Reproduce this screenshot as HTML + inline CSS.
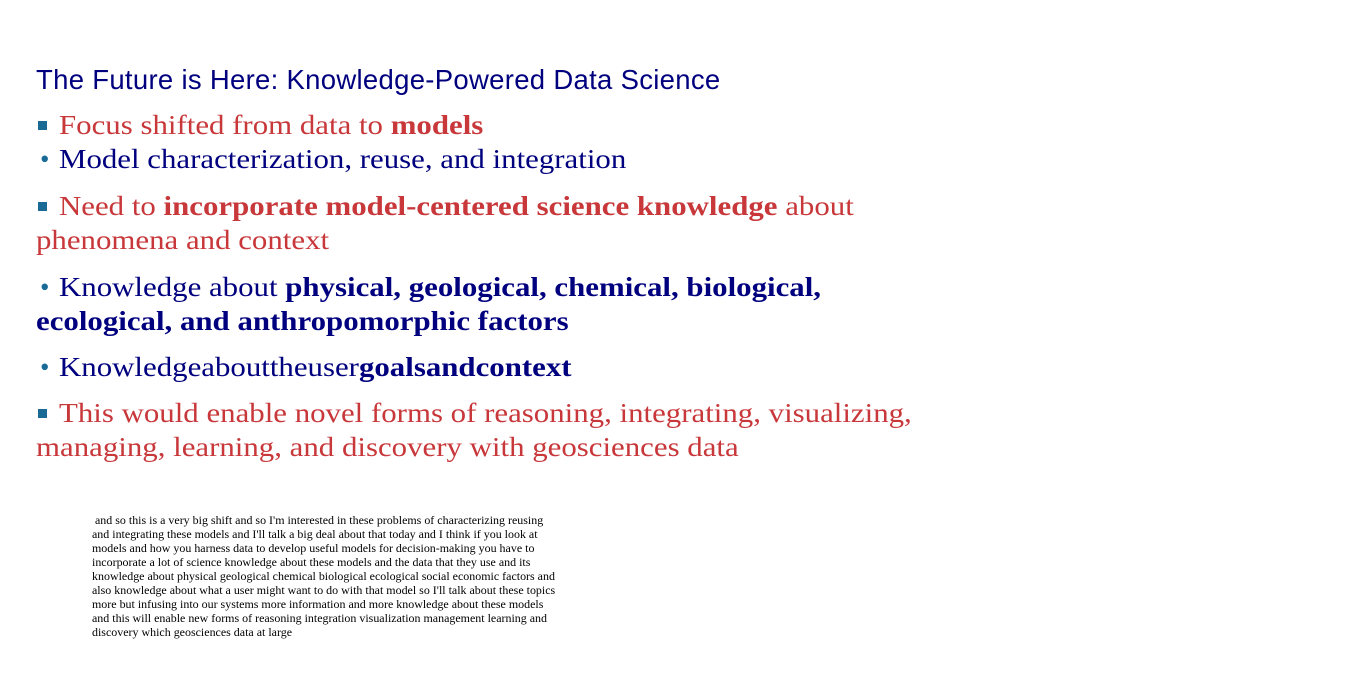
<!DOCTYPE html>
<html><head><meta charset="utf-8"><style>
html,body{margin:0;padding:0;background:#fff;}
body{width:1370px;height:676px;position:relative;overflow:hidden;}
.l{position:absolute;left:36px;white-space:nowrap;font-family:"Liberation Serif",serif;font-size:27px;line-height:34px;}
.t{display:inline-block;transform:scaleX(1.143);transform-origin:0 50%;}
.in{position:absolute;left:59px;}
.r{color:#c8373a;}
.b{color:#00007f;}
.sq{position:absolute;left:38px;width:9px;height:9px;background:#1a6a96;margin-top:13px;}
.dot{position:absolute;left:40px;color:#1a6a96;}
#title{position:absolute;left:36px;top:64px;font-family:"Liberation Sans",sans-serif;font-size:27.5px;letter-spacing:0.3px;color:#00007f;white-space:nowrap;}
#notes{position:absolute;left:92px;top:514px;font-family:"Liberation Serif",serif;font-size:11.5px;line-height:14px;color:#000;white-space:pre;transform:scaleX(1.04);transform-origin:0 0;}
</style></head><body>
<div id="title">The Future is Here: Knowledge-Powered Data Science</div>
<div class="sq" style="top:108px"></div>
<div class="l r in" style="top:108px"><span class="t">Focus shifted from data to <b>models</b></span></div>
<div class="l dot" style="top:142px">•</div>
<div class="l b in" style="top:142px"><span class="t">Model characterization, reuse, and integration</span></div>
<div class="sq" style="top:189px"></div>
<div class="l r in" style="top:189px"><span class="t">Need to <b>incorporate model-centered science knowledge</b> about</span></div>
<div class="l r" style="top:223px"><span class="t">phenomena and context</span></div>
<div class="l dot" style="top:270px">•</div>
<div class="l b in" style="top:270px"><span class="t">Knowledge about <b>physical, geological, chemical, biological,</b></span></div>
<div class="l b" style="top:304px"><span class="t"><b>ecological, and anthropomorphic factors</b></span></div>
<div class="l dot" style="top:350px">•</div>
<div class="l b in" style="top:350px"><span class="t">Knowledgeabouttheuser<b>goalsandcontext</b></span></div>
<div class="sq" style="top:396px"></div>
<div class="l r in" style="top:396px"><span class="t">This would enable novel forms of reasoning, integrating, visualizing,</span></div>
<div class="l r" style="top:430px"><span class="t">managing, learning, and discovery with geosciences data</span></div>
<div id="notes"> and so this is a very big shift and so I'm interested in these problems of characterizing reusing
and integrating these models and I'll talk a big deal about that today and I think if you look at
models and how you harness data to develop useful models for decision-making you have to
incorporate a lot of science knowledge about these models and the data that they use and its
knowledge about physical geological chemical biological ecological social economic factors and
also knowledge about what a user might want to do with that model so I'll talk about these topics
more but infusing into our systems more information and more knowledge about these models
and this will enable new forms of reasoning integration visualization management learning and
discovery which geosciences data at large</div>
</body></html>
